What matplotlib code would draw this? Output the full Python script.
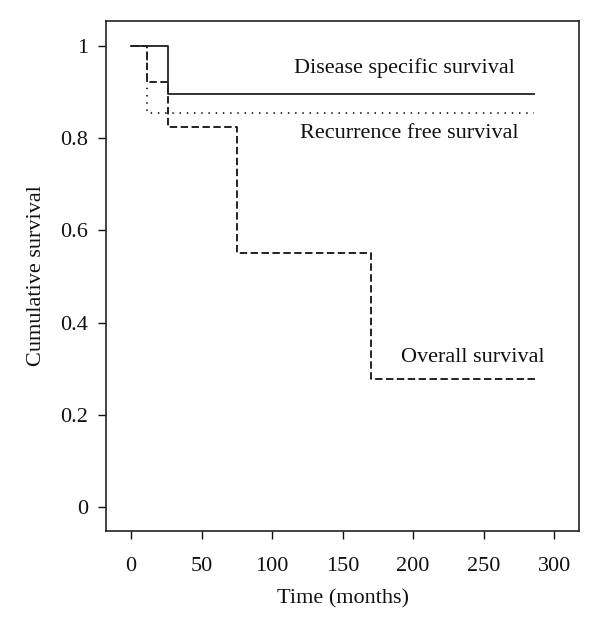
import numpy as np
import matplotlib.pyplot as plt

plt.rcParams['font.family'] = ['Liberation Serif', 'DejaVu Serif']

# Kaplan-Meier step curves (time in months, survival fraction)
dss_t = np.array([0, 26, 286])
dss_s = np.array([1.0, 0.896, 0.896])

rfs_t = np.array([0, 11, 286])
rfs_s = np.array([1.0, 0.855, 0.855])

os_t = np.array([0, 11, 26, 75, 170, 287])
os_s = np.array([1.0, 0.922, 0.824, 0.551, 0.278, 0.275])

xticks = [0, 50, 100, 150, 200, 250, 300]
yticks = [0, 0.2, 0.4, 0.6, 0.8, 1.0]
ytick_labels = ['0', '0.2', '0.4', '0.6', '0.8', '1']

fig = plt.figure(figsize=(6.0, 6.35), dpi=100)
ax = fig.add_axes([0.1767, 0.1638, 0.7883, 0.8032])

c = '#222222'
ax.step(dss_t, dss_s, where='post', color=c, lw=1.3)
ax.step(rfs_t, rfs_s, where='post', color=c, lw=1.3, linestyle=(0, (0.8, 3.2)))
ax.step(os_t, os_s, where='post', color=c, lw=1.4, linestyle=(0, (3.8, 1.8)))

fs = 16
ax.text(194, 0.952, 'Disease specific survival', ha='center', va='center', fontsize=fs, color='#111111')
ax.text(197, 0.811, 'Recurrence free survival', ha='center', va='center', fontsize=fs, color='#111111')
ax.text(242, 0.325, 'Overall survival', ha='center', va='center', fontsize=fs, color='#111111')

ax.set_xlim(-17.7, 317.6)
ax.set_ylim(-0.052, 1.054)
ax.set_xticks(xticks)
ax.set_yticks(yticks)
ax.set_yticklabels(ytick_labels)
ax.tick_params(direction='out', length=6, width=1.0, labelsize=fs, colors='#111111')
ax.tick_params(axis='x', pad=13)
ax.tick_params(axis='y', pad=7)
for s in ax.spines.values():
    s.set_linewidth(1.2)
    s.set_color('#222222')

ax.set_xlabel('Time (months)', fontsize=fs, color='#111111', labelpad=9)
ax.set_ylabel('Cumulative survival', fontsize=fs, color='#111111', labelpad=10)

fig.savefig('out.png', dpi=100)
